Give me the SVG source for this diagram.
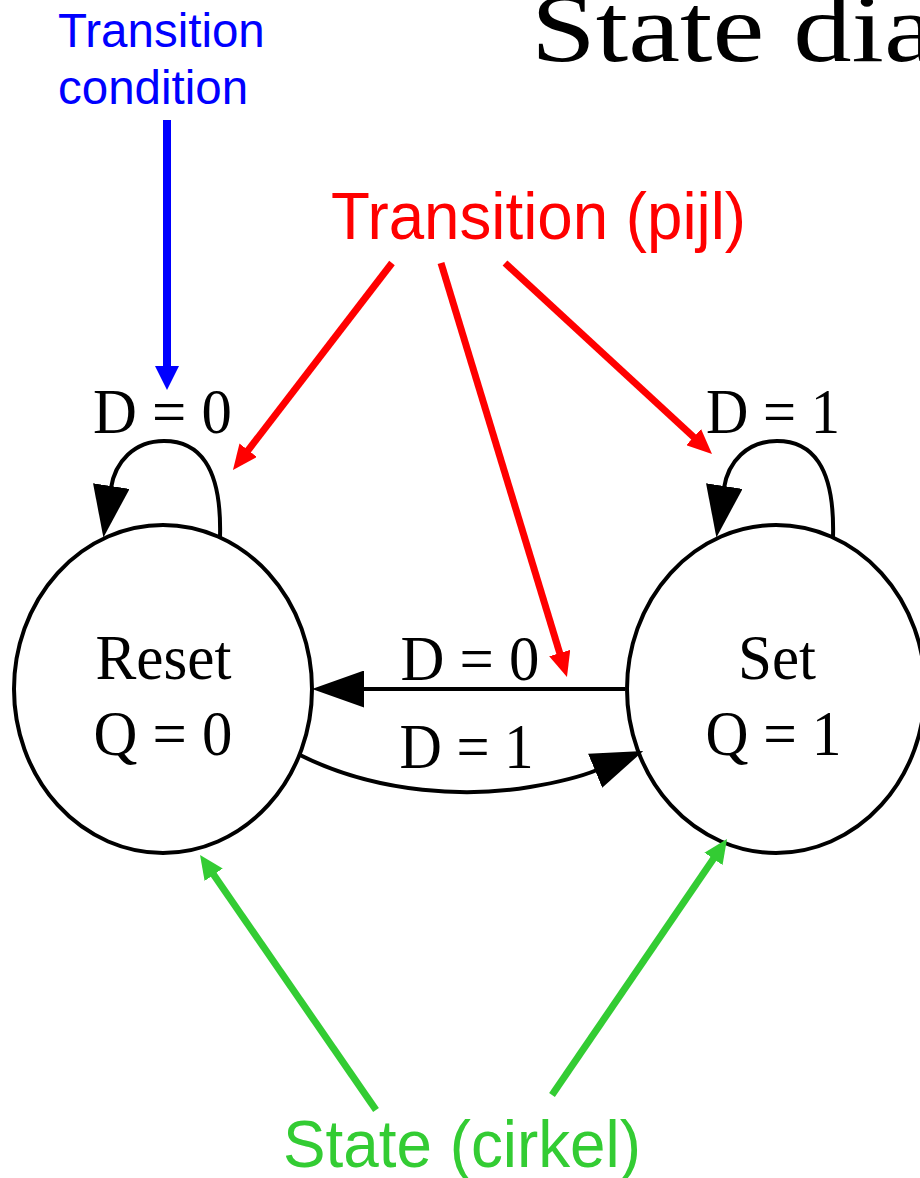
<svg xmlns="http://www.w3.org/2000/svg" width="920" height="1178" viewBox="0 0 920 1178">
<style>
.node{fill:#fff;stroke:#000;stroke-width:4}
.edge{fill:none;stroke:#000;stroke-width:4}
.serif{font-family:"Liberation Serif","Times New Roman",serif;font-size:63px;fill:#000;text-anchor:middle}
.sans{font-family:"Liberation Sans",Arial,sans-serif}
.red{stroke:#ff0000;stroke-width:7;fill:none}
.blue{stroke:#0000ff;stroke-width:8;fill:none}
.green{stroke:#33cc33;stroke-width:7;fill:none}
</style>
<defs>
<marker id="ah" markerUnits="userSpaceOnUse" viewBox="0 0 52 37" markerWidth="52" markerHeight="37" refX="2" refY="18.5" orient="auto"><path d="M0,0 L52,18.5 L0,37 z" fill="#000"/></marker>
<marker id="ahRed" markerUnits="userSpaceOnUse" viewBox="0 0 25 22" markerWidth="25" markerHeight="22" refX="11" refY="11" orient="auto"><path d="M0,0 L25,11 L0,22 z" fill="#ff0000"/></marker>
<marker id="ahBlue" markerUnits="userSpaceOnUse" viewBox="0 0 24 24" markerWidth="24" markerHeight="24" refX="10" refY="12" orient="auto"><path d="M0,0 L24,12 L0,24 z" fill="#0000ff"/></marker>
<marker id="ahGreen" markerUnits="userSpaceOnUse" viewBox="0 0 24 22" markerWidth="24" markerHeight="22" refX="10" refY="11" orient="auto"><path d="M0,0 L24,11 L0,22 z" fill="#33cc33"/></marker>
</defs>

<text id="title" class="serif" style="text-anchor:start;font-size:98px" transform="translate(531,61) scale(1.19,1)">State diagram</text>

<g id="node-reset">
<ellipse class="node" cx="163" cy="689" rx="149" ry="164"/>
<text class="serif" x="163.5" y="679" textLength="136" lengthAdjust="spacingAndGlyphs">Reset</text>
<text class="serif" x="163" y="755" textLength="139" lengthAdjust="spacingAndGlyphs">Q = 0</text>
</g>
<g id="node-set">
<ellipse class="node" cx="776" cy="689" rx="149" ry="164"/>
<text class="serif" x="777" y="679" textLength="78" lengthAdjust="spacingAndGlyphs">Set</text>
<text class="serif" x="773.5" y="755" textLength="136" lengthAdjust="spacingAndGlyphs">Q = 1</text>
</g>

<g id="connectors">
<path class="edge" d="M220,537 C222,465 198,441 164,441 C134,441 115,462 111,488" marker-end="url(#ah)"/>
<path class="edge" d="M833,537 C835,465 811,441 777,441 C747,441 728,462 724,488" marker-end="url(#ah)"/>
<path class="edge" d="M625,689 L362,689" marker-end="url(#ah)"/>
<path class="edge" d="M300,755 C380,795 470,797 530,787 C560,782 580,777 597,770" marker-end="url(#ah)"/>
<text class="serif" x="162.5" y="433" textLength="139" lengthAdjust="spacingAndGlyphs">D = 0</text>
<text class="serif" x="773" y="433" textLength="134" lengthAdjust="spacingAndGlyphs">D = 1</text>
<text class="serif" x="470" y="680" textLength="139" lengthAdjust="spacingAndGlyphs">D = 0</text>
<text class="serif" x="466.5" y="768" textLength="134" lengthAdjust="spacingAndGlyphs">D = 1</text>
</g>

<g id="annotations">
<text class="sans" x="58" y="47" style="font-size:47.5px;fill:#0000ff">Transition</text>
<text class="sans" x="58" y="104" style="font-size:47.5px;fill:#0000ff">condition</text>
<line class="blue" x1="167" y1="120" x2="167" y2="376" marker-end="url(#ahBlue)"/>

<text class="sans" x="331" y="239" textLength="415" lengthAdjust="spacingAndGlyphs" style="font-size:66px;fill:#ff0000">Transition (pijl)</text>
<line class="red" x1="392" y1="263" x2="241.5" y2="458.9" marker-end="url(#ahRed)"/>
<line class="red" x1="441" y1="263" x2="562.9" y2="663.6" marker-end="url(#ahRed)"/>
<line class="red" x1="505" y1="263" x2="701.7" y2="444.5" marker-end="url(#ahRed)"/>

<text class="sans" x="283" y="1167" textLength="358" lengthAdjust="spacingAndGlyphs" style="font-size:67px;fill:#33cc33">State (cirkel)</text>
<line class="green" x1="376" y1="1110" x2="208" y2="866.5" marker-end="url(#ahGreen)"/>
<line class="green" x1="552" y1="1095" x2="719.1" y2="850.6" marker-end="url(#ahGreen)"/>
</g>
</svg>
